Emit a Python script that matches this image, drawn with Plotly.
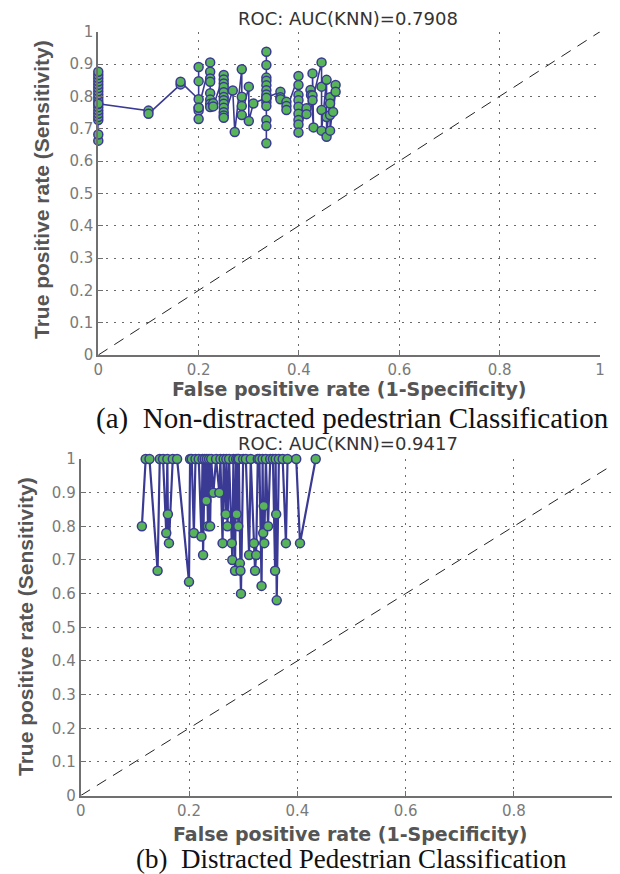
import plotly.graph_objects as go

# ---------------- data: (a) Non-distracted pedestrian ----------------
fpr_a = [0, 0, 0, 0, 0, 0, 0, 0, 0, 0, 0, 0, 0, 0, 0, 0, 0, 0, 0,
         0.100, 0.100,
         0.164, 0.164,
         0.200, 0.200, 0.200, 0.200, 0.200, 0.200, 0.200,
         0.223, 0.223, 0.223, 0.223, 0.223, 0.223, 0.223, 0.223,
         0.229, 0.229,
         0.250, 0.250, 0.250, 0.250, 0.250, 0.250, 0.250, 0.250, 0.250, 0.250, 0.250, 0.250,
         0.268, 0.272,
         0.286, 0.286, 0.286, 0.286,
         0.300, 0.300,
         0.309,
         0.335, 0.335, 0.335, 0.335, 0.335, 0.335, 0.335, 0.335, 0.335, 0.335, 0.335, 0.335, 0.335, 0.335, 0.335,
         0.363, 0.363, 0.363,
         0.375, 0.375, 0.375,
         0.399, 0.399, 0.399, 0.399, 0.399, 0.399, 0.399, 0.399, 0.399,
         0.415, 0.415,
         0.423, 0.424, 0.429,
         0.427, 0.427, 0.427,
         0.445, 0.445, 0.445, 0.445,
         0.455, 0.455, 0.455,
         0.462, 0.462, 0.462, 0.462,
         0.473, 0.473, 0.468]
tpr_a = [0.663, 0.682, 0.727, 0.736, 0.746, 0.756, 0.766, 0.776, 0.786, 0.796, 0.806, 0.816, 0.826, 0.836, 0.846, 0.856, 0.866, 0.876, 0.777,
         0.756, 0.746,
         0.837, 0.845,
         0.791, 0.891, 0.847, 0.765, 0.756, 0.730, 0.765,
         0.905, 0.876, 0.855, 0.845, 0.810, 0.790, 0.777, 0.767,
         0.779, 0.769,
         0.866, 0.852, 0.840, 0.829, 0.813, 0.798, 0.788, 0.777, 0.765, 0.751, 0.741, 0.734,
         0.818, 0.690,
         0.884, 0.799, 0.770, 0.742,
         0.830, 0.724,
         0.778,
         0.796, 0.938, 0.897, 0.858, 0.848, 0.834, 0.819, 0.806, 0.793, 0.782, 0.770, 0.727, 0.708, 0.655, 0.796,
         0.814, 0.797, 0.791,
         0.783, 0.770, 0.758,
         0.863, 0.835, 0.804, 0.788, 0.768, 0.746, 0.727, 0.713, 0.688,
         0.763, 0.745,
         0.820, 0.804, 0.704,
         0.871, 0.803, 0.788,
         0.905, 0.830, 0.758, 0.694,
         0.851, 0.736, 0.675,
         0.797, 0.778, 0.742, 0.694,
         0.835, 0.814, 0.752]

# ---------------- data: (b) Distracted pedestrian ----------------
fpr_b = [0.113, 0.120,
         0.127, 0.142, 0.146,
         0.152, 0.158, 0.160,
         0.161, 0.163, 0.170,
         0.178, 0.200, 0.202,
         0.205, 0.209, 0.212,
         0.218, 0.223, 0.225,
         0.226, 0.229,
         0.232, 0.233, 0.235, 0.237, 0.239, 0.241,
         0.245, 0.250, 0.256, 0.258,
         0.262, 0.264, 0.268, 0.269, 0.271, 0.274,
         0.279, 0.280, 0.282, 0.285, 0.287, 0.288, 0.290, 0.291, 0.292, 0.294, 0.295, 0.296, 0.300,
         0.305, 0.311, 0.314, 0.320, 0.322, 0.324, 0.327,
         0.330, 0.334, 0.336, 0.337, 0.338, 0.339, 0.342, 0.346, 0.350,
         0.355, 0.359, 0.360, 0.361, 0.362, 0.366,
         0.373, 0.379, 0.382,
         0.398, 0.405, 0.434]
tpr_b = [0.800, 1.0,
         1.0, 0.668, 1.0,
         1.0, 0.780, 1.0,
         0.836, 0.750, 1.0,
         1.0, 0.635, 1.0,
         1.0, 0.780, 1.0,
         1.0, 0.770, 1.0,
         0.715, 1.0,
         0.876, 1.0, 0.800, 1.0, 0.800, 1.0,
         0.900, 1.0, 0.900, 1.0,
         0.750, 1.0, 0.836, 1.0, 0.800, 1.0,
         0.750, 0.700, 1.0, 0.668, 1.0, 0.836, 1.0, 0.800, 1.0, 0.690, 0.668, 0.600, 1.0,
         1.0, 0.715, 1.0, 0.750, 0.668, 0.715, 1.0,
         1.0, 0.623, 1.0, 0.780, 0.860, 0.750, 1.0, 0.800, 1.0,
         1.0, 0.668, 1.0, 0.836, 0.580, 1.0,
         1.0, 0.750, 1.0,
         1.0, 0.750, 1.0]

diag = [0, 1]
x_ticks = [0, 0.2, 0.4, 0.6, 0.8, 1]
x_ticktext = ["0", "0.2", "0.4", "0.6", "0.8", "1"]
y_ticks = [0, 0.1, 0.2, 0.3, 0.4, 0.5, 0.6, 0.7, 0.8, 0.9, 1]
y_ticktext = ["0", "0.1", "0.2", "0.3", "0.4", "0.5", "0.6", "0.7", "0.8", "0.9", "1"]

titles = ["ROC: AUC(KNN)=0.7908", "ROC: AUC(KNN)=0.9417"]
captions = ["(a)\u00a0 Non-distracted pedestrian Classification",
            "(b)\u00a0 Distracted Pedestrian Classification"]
xlabel = "False positive rate (1-Specificity)"
ylabel = "True positive rate (Sensitivity)"

# ---------------- styling ----------------
# The page body has an 8px margin, so the figure is drawn 8px in from the
# window corner; all target screen positions below are converted with OFF.
OFF = 8
W, H = 620 - OFF, 874 - OFF
LINE = "#3a3a94"
FILL = "#58b458"
GRID = "#6a6a6a"
AX = "#707070"
TICKF = dict(family="DejaVu Sans", size=15, color="#7a7a7a")


def fx_(sx):
    return (sx - OFF) / W


def fy_(sy):
    return (H - (sy - OFF)) / H


fig = go.Figure()

for i, (fx, ty) in enumerate([(fpr_a, tpr_a), (fpr_b, tpr_b)]):
    xa = "x" if i == 0 else "x2"
    ya = "y" if i == 0 else "y2"
    fig.add_trace(go.Scatter(x=diag, y=diag, mode="lines", xaxis=xa, yaxis=ya,
                             line=dict(color="#222222", width=1, dash="11px,8px"),
                             hoverinfo="skip", showlegend=False))
    fig.add_trace(go.Scatter(x=fx, y=ty, mode="lines+markers", xaxis=xa, yaxis=ya,
                             line=dict(color=LINE, width=1.6 if i == 0 else 2.2),
                             marker=dict(size=9, color=FILL, line=dict(color=LINE, width=1.5)),
                             cliponaxis=False, showlegend=False))

axis_common = dict(showline=True, linecolor=AX, linewidth=2, mirror=False,
                   ticks="inside", ticklen=5, tickcolor=AX, tickwidth=1,
                   showgrid=True, gridcolor=GRID, gridwidth=1, griddash="2px,6px",
                   zeroline=False, tickfont=TICKF, automargin=False)

fig.update_layout(
    template="none",
    # top subplot: screen x 98.3..600, y 31.7..355
    xaxis=dict(domain=[fx_(98.3), fx_(600)], range=[0, 1], tickvals=x_ticks,
               ticktext=x_ticktext, anchor="y", **axis_common),
    yaxis=dict(domain=[fy_(355), fy_(31.7)], range=[0, 1], tickvals=y_ticks,
               ticktext=y_ticktext, anchor="x", **axis_common),
    # bottom subplot: screen x 80.7..(622), y 459..795.6 (right edge cut by the border)
    xaxis2=dict(domain=[fx_(80.7), 1.0], range=[0, (620 - 80.7) / 541.5], tickvals=x_ticks,
                ticktext=x_ticktext, anchor="y2", **axis_common),
    yaxis2=dict(domain=[fy_(795.6), fy_(459)], range=[0, 1], tickvals=y_ticks,
                ticktext=y_ticktext, anchor="x2", **axis_common),
    width=W, height=H, margin=dict(l=0, r=0, t=0, b=0, pad=0),
    paper_bgcolor="white", plot_bgcolor="white", showlegend=False,
)


def note(text, sx, sy, font, angle=0):
    return dict(text=text, x=fx_(sx), y=fy_(sy), xref="paper", yref="paper",
                xanchor="center", yanchor="middle", borderpad=0,
                showarrow=False, textangle=angle, font=font)


TITLEF = dict(family="DejaVu Sans", size=18, color="#333333")
XLABF = dict(family="DejaVu Sans", size=19, color="#555555")
YLABF = dict(family="Liberation Sans", size=21, color="#555555")
CAPF_A = dict(family="Liberation Serif", size=29, color="#111111")
CAPF_B = dict(family="Liberation Serif", size=27, color="#111111")

ann = [
    note(titles[0], 348, 19, TITLEF),
    note(titles[1], 348, 443, TITLEF),
    note("<b>" + xlabel + "</b>", 349, 389, XLABF),
    note("<b>" + xlabel + "</b>", 350, 834, XLABF),
    note("<b>" + ylabel + "</b>", 41, 190, YLABF, -90),
    note("<b>" + ylabel + "</b>", 25, 627, YLABF, -90),
    note(captions[0], 352, 418, CAPF_A),
    note(captions[1], 351, 859, CAPF_B),
    # x=1 tick label of the lower panel sits on the image border
    dict(text="1", x=1, y=0, xref="x2", yref="y2", xanchor="center", yanchor="top",
         yshift=-3, showarrow=False, font=TICKF),
]
fig.update_layout(annotations=ann)

fig.write_html("out.html")
